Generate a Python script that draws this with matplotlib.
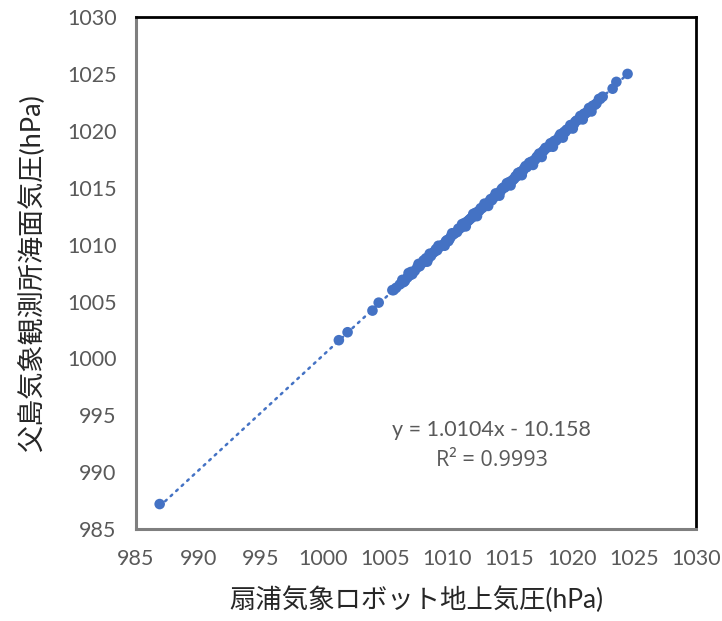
import matplotlib
matplotlib.use("Agg")
import matplotlib.pyplot as plt
import numpy as np

# ───── data ─────
ohgiura_hpa = [
    986.9, 1001.3, 1002.0, 1004.0, 1004.5, 1005.6, 1006.5,
    1005.7, 1005.9, 1006.2, 1006.4, 1006.6, 1006.8, 1007.0, 1007.1, 1007.4, 1007.6,
    1007.8, 1008.0, 1008.2, 1008.3, 1008.5, 1008.7, 1008.9, 1009.0, 1009.2, 1009.4,
    1009.5, 1009.7, 1009.9, 1010.0, 1010.2, 1010.3, 1010.5, 1010.6, 1010.8, 1011.0,
    1011.1, 1011.3, 1011.4, 1011.6, 1011.7, 1011.9, 1012.0, 1012.2, 1012.3, 1012.5,
    1012.6, 1012.8, 1012.9, 1013.1, 1013.2, 1013.4, 1013.5, 1013.7, 1013.8, 1014.0,
    1014.1, 1014.3, 1014.4, 1014.6, 1014.7, 1014.9, 1015.0, 1015.2, 1015.3, 1015.5,
    1015.6, 1015.8, 1015.9, 1016.1, 1016.2, 1016.4, 1016.5, 1016.7, 1016.8, 1017.0,
    1017.2, 1017.3, 1017.5, 1017.7, 1017.8, 1018.0, 1018.2, 1018.4, 1018.6, 1018.8,
    1019.0, 1019.2, 1019.4, 1019.6, 1019.8, 1020.0, 1020.2, 1020.4, 1020.6, 1020.8,
    1021.0, 1021.2, 1021.5, 1021.7, 1022.0, 1022.3, 1022.5,
    1007.2, 1008.1, 1009.1, 1010.1, 1010.9, 1011.8, 1012.7, 1013.6, 1014.5, 1015.4,
    1016.3, 1017.1, 1017.9, 1018.7, 1019.5, 1020.3, 1021.1, 1021.9,
    1006.9, 1007.7, 1008.6, 1009.3, 1010.4, 1011.2, 1012.1, 1013.0, 1013.9, 1014.8,
    1015.7, 1016.6, 1017.4, 1018.3, 1019.1, 1019.9, 1020.7, 1021.4, 1022.2,
    1008.4, 1009.8, 1011.5, 1012.4, 1013.3, 1014.2, 1015.1, 1016.0, 1016.9, 1017.6,
    1018.5, 1019.3, 1020.1, 1020.9, 1021.6,
    1023.3, 1023.6, 1024.5,
]
chichijima_hpa = [
    987.2, 1001.6, 1002.3, 1004.2, 1004.9, 1006.0, 1006.7,
    1006.0, 1006.2, 1006.5, 1006.9, 1006.8, 1007.1, 1007.3, 1007.6, 1007.7, 1008.0,
    1008.1, 1008.4, 1008.5, 1008.8, 1008.8, 1009.0, 1009.3, 1009.4, 1009.5, 1009.8,
    1009.9, 1010.0, 1010.3, 1010.4, 1010.5, 1010.7, 1010.9, 1011.0, 1011.1, 1011.4,
    1011.5, 1011.6, 1011.9, 1012.0, 1012.1, 1012.3, 1012.4, 1012.5, 1012.8, 1012.9,
    1013.0, 1013.2, 1013.3, 1013.5, 1013.6, 1013.8, 1014.0, 1014.1, 1014.2, 1014.4,
    1014.5, 1014.7, 1014.9, 1015.0, 1015.1, 1015.3, 1015.5, 1015.6, 1015.7, 1016.0,
    1016.0, 1016.3, 1016.4, 1016.5, 1016.7, 1016.8, 1017.0, 1017.1, 1017.3, 1017.4,
    1017.7, 1017.8, 1017.9, 1018.2, 1018.3, 1018.5, 1018.6, 1018.9, 1019.1, 1019.2,
    1019.5, 1019.6, 1019.9, 1020.1, 1020.2, 1020.5, 1020.6, 1020.9, 1021.0, 1021.3,
    1021.5, 1021.6, 1021.9, 1022.2, 1022.4, 1022.8, 1023.0,
    1007.4, 1008.6, 1009.6, 1010.3, 1011.4, 1012.2, 1013.2, 1013.9, 1015.0, 1015.8,
    1016.9, 1017.5, 1018.5, 1019.1, 1019.9, 1020.8, 1021.5, 1022.3,
    1007.5, 1008.3, 1009.2, 1009.9, 1011.0, 1011.8, 1012.7, 1013.6, 1014.5, 1015.4,
    1016.3, 1017.2, 1018.0, 1018.9, 1019.7, 1020.5, 1021.3, 1022.0, 1022.8,
    1008.5, 1009.9, 1011.6, 1012.5, 1013.4, 1014.3, 1015.2, 1016.1, 1017.0, 1017.7,
    1018.6, 1019.4, 1020.2, 1021.0, 1021.7,
    1023.7, 1024.3, 1025.0,
]

# Excel linear trendline as printed on the chart
trend_slope = 1.0104
trend_intercept = -10.158
r_squared = 0.9993

ticks = list(range(985, 1031, 5))

blue = "#4472C4"
grey_txt = "#595959"
num_font = ["Lato", "DejaVu Sans"]
jp_font = ["Lato", "Noto Sans CJK JP", "DejaVu Sans"]

fig = plt.figure(figsize=(7.22, 6.21), dpi=100)
ax = fig.add_axes([0.1884, 0.148, 0.7756, 0.8246])

# trendline over the data range
tx = np.array([min(ohgiura_hpa), max(ohgiura_hpa)])
ax.plot(tx, trend_slope * tx + trend_intercept, color=blue, lw=1.8,
        linestyle=(0, (0.8, 2.2)), dash_capstyle="round", zorder=2)

ax.scatter(ohgiura_hpa, chichijima_hpa, s=58, color=blue, edgecolors="none", zorder=3)

ax.set_xlim(985, 1030)
ax.set_ylim(985, 1030)
ax.set_xticks(ticks)
ax.set_yticks(ticks)
ax.tick_params(length=0, pad=14, labelsize=15.5, labelcolor=grey_txt)
for lab in ax.get_xticklabels() + ax.get_yticklabels():
    lab.set_family(num_font)

for side in ("top", "right"):
    ax.spines[side].set_color("black")
    ax.spines[side].set_linewidth(2)
for side in ("left", "bottom"):
    ax.spines[side].set_color("#7f7f7f")
    ax.spines[side].set_linewidth(2.2)

ax.set_xlabel("扇浦気象ロボット地上気圧(hPa)", fontsize=19, color="#262626",
              family=jp_font, labelpad=13)
ax.set_ylabel("父島気象観測所海面気圧(hPa)", fontsize=19.5, color="#262626",
              family=jp_font, labelpad=16)

ax.text(1013.6, 993.7, f"y = {trend_slope}x - {abs(trend_intercept)}", ha="center", va="center",
        fontsize=15.5, color=grey_txt, family=num_font)
ax.text(1013.6, 991.0, f"R² = {r_squared}", ha="center", va="center",
        fontsize=15.5, color=grey_txt, family=["Open Sans", "DejaVu Sans"])

fig.savefig("out.png", dpi=100)
